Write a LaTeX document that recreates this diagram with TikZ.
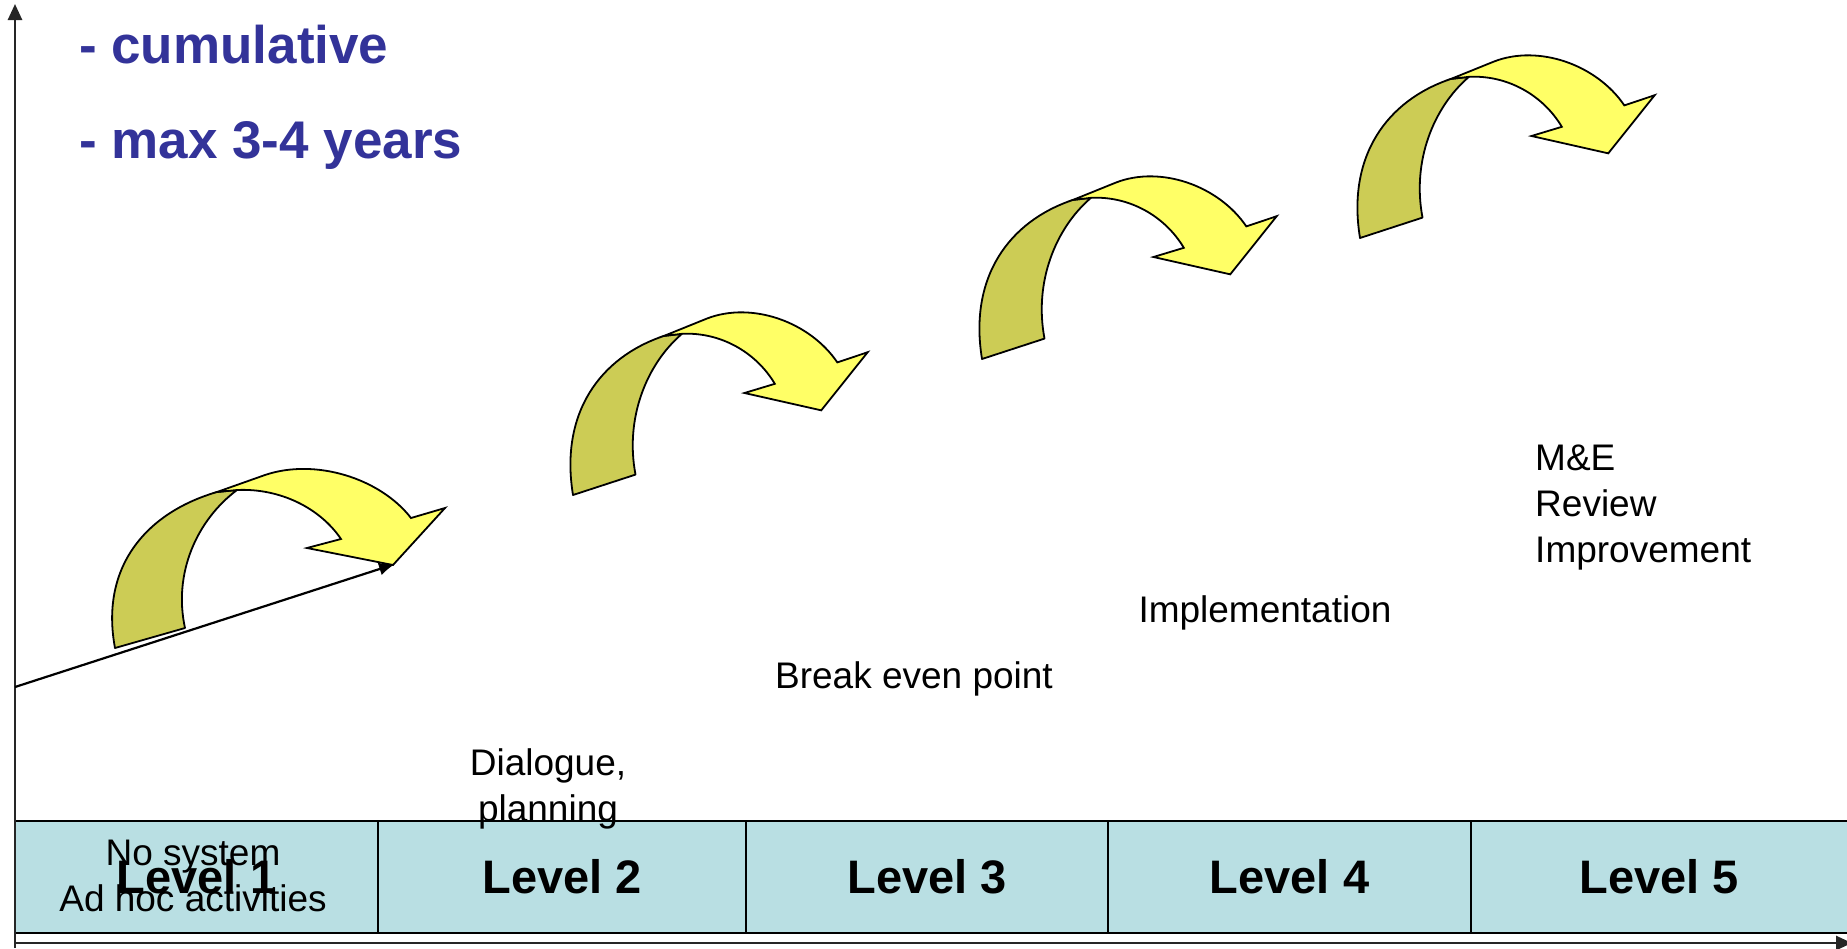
\documentclass[tikz,border=0pt]{standalone}
\usepackage{fontspec}
\setmainfont{Liberation Sans}
\usetikzlibrary{arrows.meta}
\definecolor{titleblue}{HTML}{333399}
\definecolor{arrowyellow}{HTML}{FFFF66}
\definecolor{arrowolive}{HTML}{CCCC55}
\definecolor{cellblue}{HTML}{B9DFE3}
\newcommand\fsTitle{\fontsize{53}{96}\selectfont\bfseries}
\newcommand\fsLevel{\fontsize{47}{52}\selectfont\bfseries}
\newcommand\fsLabel{\fontsize{37}{46}\selectfont}
\tikzset{
  cell/.style={draw=black, line width=2.5pt, fill=cellblue, minimum height=112pt, inner sep=0pt, font=\fsLevel},
  lbl/.style={inner sep=0pt, font=\fsLabel, align=center},
  ttl/.style={inner sep=0pt, anchor=base west, text=titleblue, font=\fsTitle},
  darkpart/.style={fill=arrowolive, draw=black, line width=1.8pt, line join=round},
  lightpart/.style={fill=arrowyellow, draw=black, line width=1.8pt, line join=miter},
  axisline/.style={line width=2.6pt, draw=black!85},
  curvearrow/.pic={
    \filldraw[darkpart] (0,0) .. controls (-15,-80) and (30,-135) .. (102,-156)
      -- (122,-158) .. controls (82,-128) and (58,-75) .. (70,-20) -- cycle;
    \filldraw[lightpart] (102,-156) -- (150,-173)
      .. controls (200,-190) and (265,-170) .. (296,-130)
      -- (330,-140) -- (278,-83) -- (192,-100) -- (226,-109)
      .. controls (205,-140) and (165,-160) .. (122,-158) -- cycle;
  }
}
\begin{document}
\begin{tikzpicture}[x=1pt, y=-1pt]
\useasboundingbox (0,0) rectangle (1847,948);
\fill[white] (0,0) rectangle (1847,948);

% title text
\node[ttl] (t1) at (79,63) {- cumulative};
\node[ttl] (t2) at (79,158) {- max 3-4 years};

% level table
\node[cell, minimum width=363pt] (L1) at (196.5,877) {Level 1};
\node[cell, minimum width=368pt] (L2) at (562,877) {Level 2};
\node[cell, minimum width=362pt] (L3) at (927,877) {Level 3};
\node[cell, minimum width=363pt] (L4) at (1289.5,877) {Level 4};
\node[cell, minimum width=384pt] (L5) at (1663,877) {};
\node[inner sep=0pt, font=\fsLevel] (L5t) at (1659,877) {Level 5};

% axes
\coordinate (ybot) at (15,948);
\coordinate (ytop) at (15,4);
\coordinate (xo) at (15,943);
\coordinate (xend) at (1852,943);
\draw[axisline, -{Triangle[length=16pt,width=14pt]}] (ybot) -- (ytop);
\draw[axisline, -{Triangle[length=16pt,width=14pt]}] (xo) -- (xend);

% curved arrows
\pic at (115,648) {curvearrow};
\pic[xscale=0.893, yscale=1.02] at (573,495) {curvearrow};
\pic[xscale=0.893, yscale=1.02] at (982,359) {curvearrow};
\pic[xscale=0.893, yscale=1.02] at (1360,238) {curvearrow};

% rising line
\coordinate (lineStart) at (15,687);
\coordinate (lineEnd) at (395,564);
\draw[line width=2.2pt, -{Latex[length=16pt,width=13pt]}] (lineStart) -- (lineEnd);

% labels
\node[lbl] (noSys) at (193,876) {No system\\Ad hoc activities};
\node[lbl] (dialog) at (548,789) {Dialogue,\\planning};
\node[lbl] (breakEven) at (914,679) {Break even point};
\node[lbl] (impl) at (1265,613) {Implementation};
\node[lbl, align=left, anchor=west] (me) at (1535,508) {M\&E\\Review\\Improvement};
\end{tikzpicture}
\end{document}
